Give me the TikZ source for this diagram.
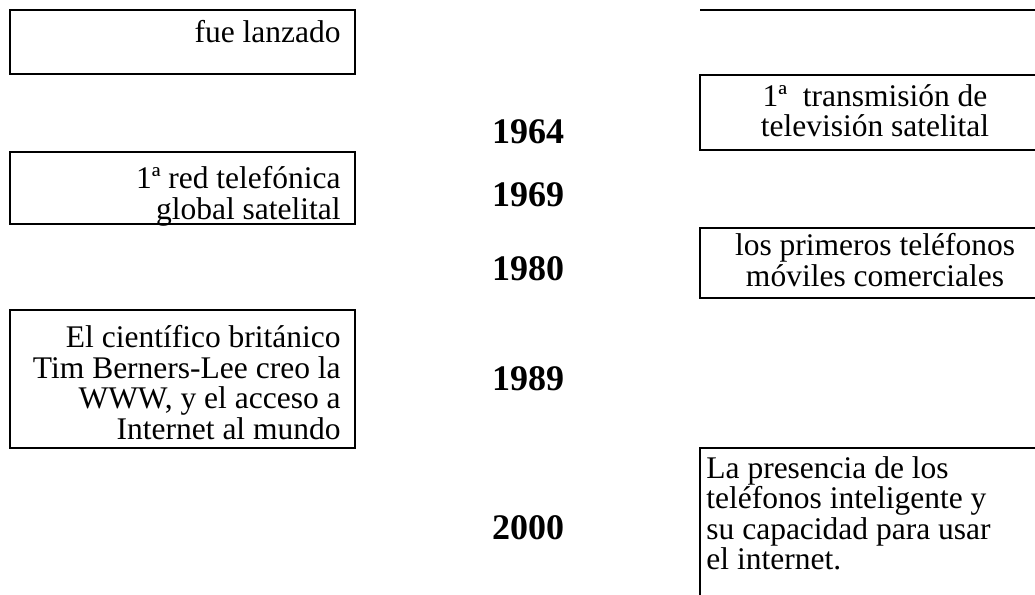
\documentclass[tikz,border=0pt]{standalone}
\usepackage{fontspec}
\setmainfont{Liberation Serif}
\usetikzlibrary{positioning}

\begin{document}
\begin{tikzpicture}[
    x=1pt, y=-1pt,
    eventbox/.style={
      draw=black, line width=1.6pt, inner sep=0pt,
    },
    leftbox/.style={eventbox, minimum width=345pt},
    rightbox/.style={eventbox, minimum width=350pt},
    eventtext/.style={
      font=\fontsize{31.5}{30.5}\selectfont, inner sep=0pt,
      execute at begin node={\rule{0pt}{25pt}},
    },
    yearlabel/.style={font=\fontsize{36}{40}\selectfont\bfseries, inner sep=0pt, anchor=base},
  ]

  %% ---- page frame ----
  \useasboundingbox (0,0) rectangle (1035,594);
  \clip (0,0) rectangle (1035,594);

  %% ---- left column boxes ----
  \node[leftbox, minimum height=64pt]  (launch)  at (182.5,42)  {};
  \node[leftbox, minimum height=72pt]  (phone)   at (182.5,188) {};
  \node[leftbox, minimum height=138pt] (www)     at (182.5,379) {};

  %% ---- right column boxes ----
  \coordinate (topL) at (700,10);
  \coordinate (topR) at (1050,10);
  \draw[line width=1.6pt] (topL) -- (topR);
  \node[rightbox, minimum height=75pt]  (tv)     at (875,112.5) {};
  \node[rightbox, minimum height=70pt]  (mobile) at (875,263)   {};
  \node[rightbox, minimum height=192pt] (smart)  at (875,544)   {};

  %% ---- texts in left boxes (right aligned) ----
  \node[eventtext, align=right, anchor=north east] (launchT)
    at ([shift={(-15,8)}]launch.north east) {fue lanzado};
  \node[eventtext, align=right, anchor=north east] (phoneT)
    at ([shift={(-15,15)}]phone.north east) {1ª red telefónica\\global satelital};
  \node[eventtext, align=right, anchor=north east] (wwwT)
    at ([shift={(-15,16)}]www.north east)
    {El científico británico\\Tim Berners-Lee creo la\\WWW, y el acceso a\\Internet al mundo};

  %% ---- texts in right boxes ----
  \node[eventtext, align=center, anchor=north] (tvT)
    at ([shift={(0,10)}]tv.north) {1ª\ \ transmisión de\\televisión satelital};
  \node[eventtext, align=center, anchor=north] (mobileT)
    at ([shift={(0,6)}]mobile.north) {los primeros teléfonos\\móviles comerciales};
  \node[eventtext, align=left, anchor=north west] (smartT)
    at ([shift={(7,9)}]smart.north west)
    {La presencia de los\\teléfonos inteligente y\\su capacidad para usar\\el internet.};

  %% ---- years ----
  \node[yearlabel] (y1964) at (528,143) {1964};
  \node[yearlabel] (y1969) at (528,206) {1969};
  \node[yearlabel] (y1980) at (528,280) {1980};
  \node[yearlabel] (y1989) at (528,390) {1989};
  \node[yearlabel] (y2000) at (528,539) {2000};

\end{tikzpicture}
\end{document}
